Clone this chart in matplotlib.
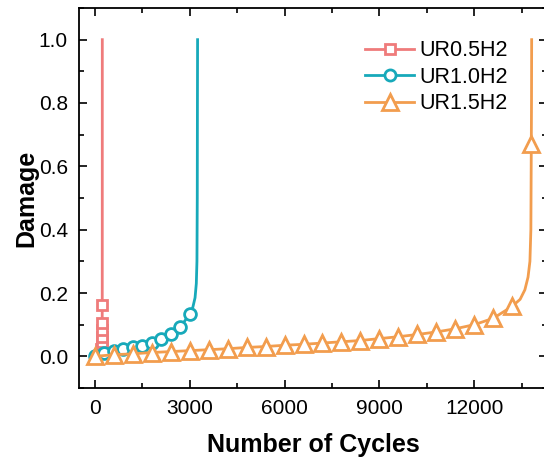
import matplotlib
matplotlib.use("Agg")
import matplotlib.pyplot as plt
from matplotlib.lines import Line2D
from matplotlib.ticker import MultipleLocator

plt.rcParams['font.family'] = ['Liberation Sans', 'DejaVu Sans']

series_names = ["UR0.5H2", "UR1.0H2", "UR1.5H2"]

# UR0.5H2
red_curve_n = [0, 60, 120, 170, 200, 215, 225, 230, 233, 235, 236, 237]
red_curve_d = [-0.005, 0.0, 0.006, 0.014, 0.022, 0.032, 0.048, 0.07, 0.1, 0.16, 0.4, 1.0]
red_mark_n = [205, 215, 223, 228, 231, 233, 235]
red_mark_d = [0.022, 0.032, 0.046, 0.062, 0.082, 0.105, 0.161]

# UR1.0H2
cyan_curve_n = [0, 100, 300, 600, 900, 1200, 1500, 1800, 2100, 2400, 2700, 3000,
                3100, 3170, 3210, 3230, 3240, 3245, 3250]
cyan_curve_d = [-0.012, -0.006, 0.008, 0.016, 0.022, 0.028, 0.034, 0.043, 0.054, 0.07,
                0.092, 0.133, 0.155, 0.185, 0.23, 0.3, 0.5, 0.8, 1.0]
cyan_mark_n = [0, 300, 600, 900, 1200, 1500, 1800, 2100, 2400, 2700, 3000]
cyan_mark_d = [0.0, 0.01, 0.016, 0.022, 0.028, 0.034, 0.043, 0.054, 0.07, 0.092, 0.133]

# UR1.5H2
orange_mark_n = [0, 600, 1200, 1800, 2400, 3000, 3600, 4200, 4800, 5400, 6000, 6600,
                 7200, 7800, 8400, 9000, 9600, 10200, 10800, 11400, 12000, 12600, 13200,
                 13800]
orange_mark_d = [0.0, 0.005, 0.008, 0.012, 0.015, 0.018, 0.021, 0.024, 0.028, 0.031,
                 0.035, 0.038, 0.042, 0.046, 0.05, 0.056, 0.062, 0.069, 0.077, 0.087,
                 0.1, 0.12, 0.158, 0.67]
orange_curve_n = orange_mark_n[:-1] + [13450, 13600, 13700, 13760, 13790, 13800, 13810, 13815]
orange_curve_d = orange_mark_d[:-1] + [0.18, 0.21, 0.25, 0.3, 0.4, 0.6, 0.8, 1.0]

colors = ['#EF7B7B', '#17A9BA', '#F29D4E']
markers = ['s', 'o', '^']
msizes = [7.5, 8.5, 12]

fig = plt.figure(figsize=(5.44, 4.61), dpi=100)
ax = fig.add_axes([79/544, (461-388)/461, (547-79)/544, (388-8)/461])

curves = [(red_curve_n, red_curve_d, red_mark_n, red_mark_d),
          (cyan_curve_n, cyan_curve_d, cyan_mark_n, cyan_mark_d),
          (orange_curve_n, orange_curve_d, orange_mark_n, orange_mark_d)]

handles = []
for i, (cn, cd, mn, md) in enumerate(curves):
    ax.plot(cn, cd, color=colors[i], lw=2, zorder=2 + 2 * i)
    ax.plot(mn, md, ls='none', marker=markers[i], ms=msizes[i], mfc='white',
            mec=colors[i], mew=2, zorder=3 + 2 * i)
    handles.append(Line2D([], [], color=colors[i], lw=2, marker=markers[i],
                          ms=[7, 8, 11][i], mfc='white', mec=colors[i], mew=2))

ax.set_xlim(-500, 14300)
ax.set_ylim(-0.1, 1.1)
ax.xaxis.set_major_locator(MultipleLocator(3000))
ax.xaxis.set_minor_locator(MultipleLocator(1500))
ax.yaxis.set_major_locator(MultipleLocator(0.2))
ax.yaxis.set_minor_locator(MultipleLocator(0.1))
ax.set_xticks([0, 3000, 6000, 9000, 12000])
ax.set_yticks([0.0, 0.2, 0.4, 0.6, 0.8, 1.0])
ax.set_yticklabels(['0.0', '0.2', '0.4', '0.6', '0.8', '1.0'])
ax.tick_params(which='both', direction='in', top=True, right=True, width=1.2,
               labelsize=15, colors='black')
ax.tick_params(which='major', length=6, pad=8)
ax.tick_params(which='minor', length=3.5)
for s in ax.spines.values():
    s.set_linewidth(1.3)

ax.set_xlabel('Number of Cycles', fontsize=18, fontweight='bold', labelpad=10.5)
ax.set_ylabel('Damage', fontsize=18, fontweight='bold', labelpad=0)

ax.legend(handles, series_names, loc='upper left', bbox_to_anchor=(0.611, 0.915),
          frameon=False, fontsize=15.5, handlelength=2.3, handletextpad=0.25,
          labelspacing=0.25, borderaxespad=0.0, borderpad=0.0)

fig.savefig('out.png', dpi=100)
